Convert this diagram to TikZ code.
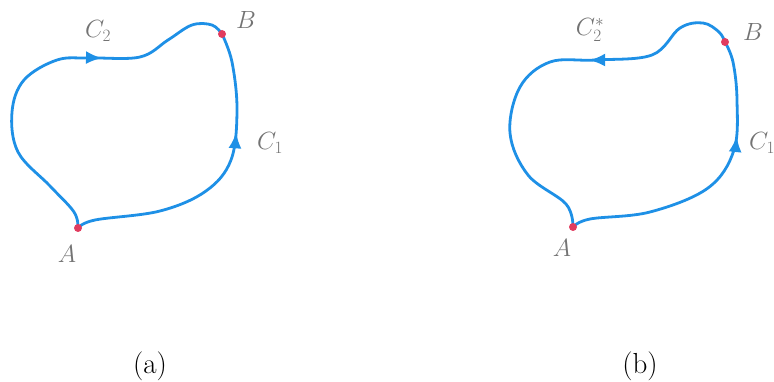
\documentclass[tikz,border=0pt]{standalone}
\usepackage{amsmath,amssymb}
\usepackage{tikz}
\usepackage{xcolor}
\usetikzlibrary{arrows.meta, positioning, calc, decorations.markings, backgrounds}
\definecolor{curveblue}{RGB}{30, 144, 230}
\definecolor{pointred}{RGB}{225, 60, 95}
\definecolor{labelgray}{RGB}{115, 115, 115}

\begin{document}
\begin{tikzpicture}[x=1pt, y=-1pt,
    point/.style={circle, fill=pointred, inner sep=0pt, minimum size=8pt},
    curve/.style={curveblue, line width=2.8pt, line cap=round},
    lbl/.style={text=labelgray, inner sep=0pt, font=\fontsize{26}{28}\selectfont},
    caption/.style={inner sep=0pt, font=\fontsize{29}{31}\selectfont}]

\useasboundingbox (0,0) rectangle (774,382);

% Panel (a): end points
\node[point] (A1) at (78,228) {};
\node[point] (B1) at (222,34) {};

% Panel (a): both paths run from A to B
\begin{scope}[on background layer]
\draw[curve, decoration={markings, mark=at position 0.67 with
      {\arrow{Latex[length=16pt,width=13pt]}}}, postaction={decorate}]
      plot[smooth, tension=0.6] coordinates {(A1) (95,220) (160,211) (206,191)
      (231,160) (237,110) (232,62) (B1)};
\draw[curve, decoration={markings, mark=at position 0.66 with
      {\arrow{Latex[length=16pt,width=13pt]}}}, postaction={decorate}]
      plot[smooth, tension=0.6] coordinates {(A1) (74,212) (50,186) (18,152)
      (12,112) (24,80) (57,60) (90,58) (140,57) (168,40) (192,25) (212,25) (B1)};
\end{scope}

\node[lbl] (A1-lbl) at (67,254) {$A$};
\node[lbl] (B1-lbl) at (246,20) {$B$};
\node[lbl] (C1a-lbl) at (270,143) {$C_1$};
\node[lbl] (C2a-lbl) at (98,31) {$C_2$};

% Panel (b): end points
\node[point] (A2) at (573,227) {};
\node[point] (B2) at (725,42) {};

% Panel (b): C1 from A to B, reversed path from B to A
\begin{scope}[on background layer]
\draw[curve, decoration={markings, mark=at position 0.68 with
      {\arrow{Latex[length=16pt,width=13pt]}}}, postaction={decorate}]
      plot[smooth, tension=0.6] coordinates {(A2) (590,219) (650,212) (708,188)
      (734,150) (737,100) (733,62) (B2)};
\draw[curve, decoration={markings, mark=at position 0.39 with
      {\arrow{Latex[length=16pt,width=13pt]}}}, postaction={decorate}]
      plot[smooth, tension=0.6] coordinates {(B2) (719,32) (703,23) (680,28)
      (652,55) (595,60) (550,62) (520,87) (510,133) (528,175) (566,204) (A2)};
\end{scope}

\node[lbl] (A2-lbl) at (562,248) {$A$};
\node[lbl] (B2-lbl) at (753,32) {$B$};
\node[lbl] (C1b-lbl) at (762,143) {$C_1$};
\node[lbl] (C2b-lbl) at (590,30) {$C_2^*$};

% Captions
\node[caption] (cap-a) at (150,366) {(a)};
\node[caption] (cap-b) at (640,366) {(b)};

\end{tikzpicture}
\end{document}
